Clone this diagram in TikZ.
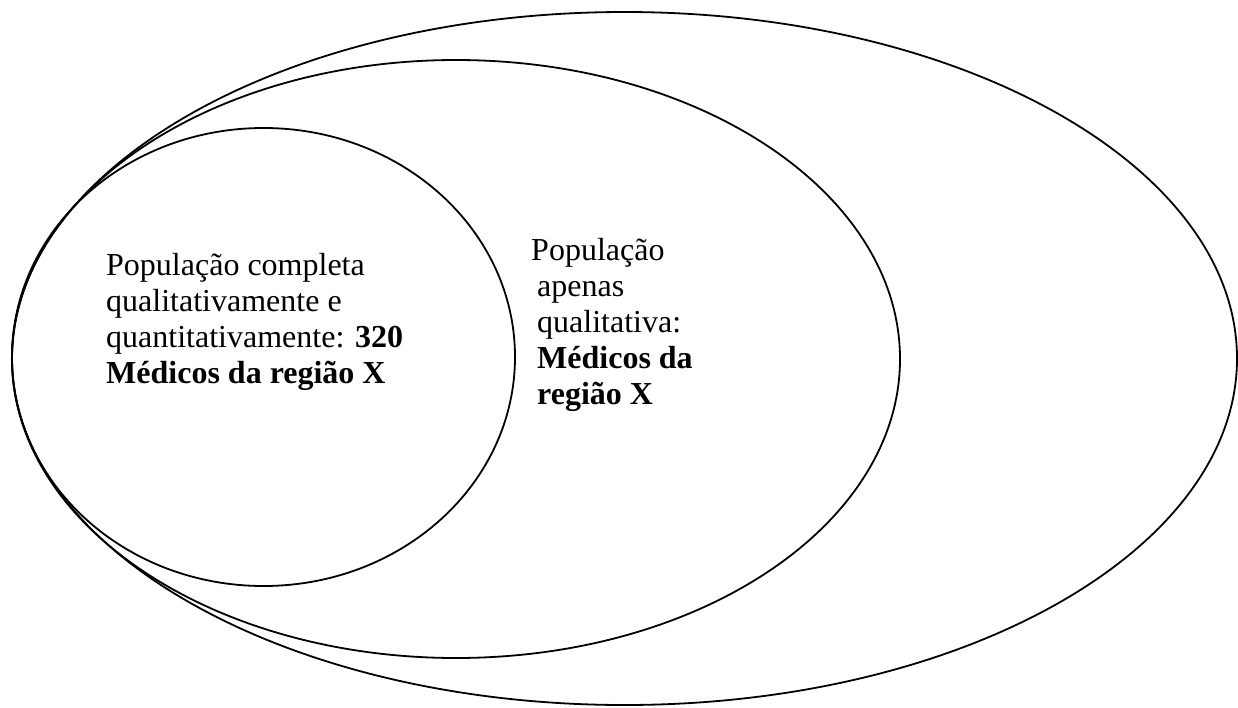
\documentclass[tikz,border=0pt]{standalone}
\usepackage{fontspec}
\setmainfont{Liberation Serif}
\usepackage{tikz}
\usetikzlibrary{positioning}

\begin{document}
\begin{tikzpicture}[
    x=1pt, y=-1pt,
    set/.style={draw, line width=1.8pt},
    label/.style={anchor=north west, inner sep=0pt, align=left, font=\fontsize{32}{36}\selectfont}
]
    \useasboundingbox (0,0) rectangle (1238,707);

    % Outer set
    \draw[set] (624.5,358.5) ellipse [x radius=612.5, y radius=346.5];

    % Qualitative population
    \draw[set] (456,359) ellipse [x radius=444, y radius=299];

    % Complete population
    \draw[set] (263.5,357) ellipse [x radius=251.5, y radius=229];

    % Labels
    \node[label] (complete) at (106,253) {População completa\\qualitativamente e\\quantitativamente: \textbf{320}\\\textbf{Médicos da região X}};
    \node[label] (quali) at (531,238) {População\\\hspace*{6pt}apenas\\\hspace*{6pt}qualitativa:\\\hspace*{6pt}\textbf{Médicos da}\\\hspace*{6pt}\textbf{região X}};

\end{tikzpicture}
\end{document}
